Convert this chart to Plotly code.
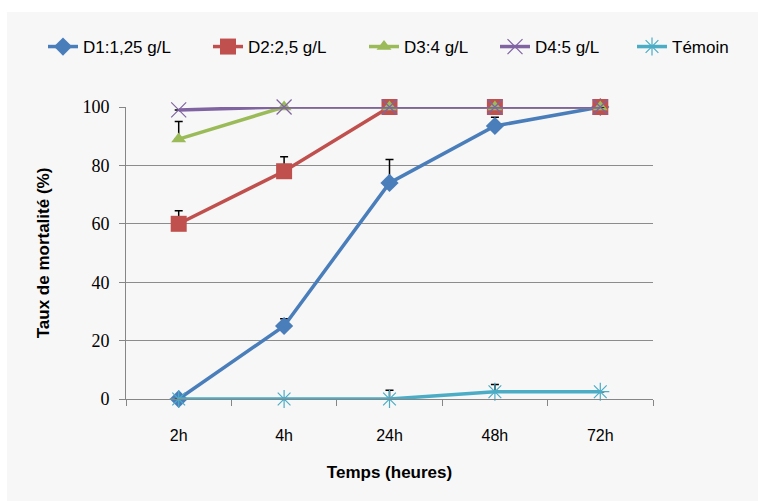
import plotly.graph_objects as go

categories = ["2h", "4h", "24h", "48h", "72h"]
series_names = ["D1:1,25 g/L", "D2:2,5 g/L", "D3:4 g/L", "D4:5 g/L", "Témoin"]
d1 = [0, 25, 74, 93.5, 100]
d2 = [60, 78, 100, 100, 100]
d3 = [89, 100, 100, 100, 100]
d4 = [99, 100, 100, 100, 100]
temoin = [0, 0, 0, 2.5, 2.5]
err_d1 = [0, 2.5, 8, 3, 0]
err_d2 = [4.5, 5, 0, 0, 0]
err_d3 = [6, 0, 0, 0, 0]
err_d4 = [0, 0, 0, 0, 0]
err_temoin = [0, 0, 3, 2.5, 0]
y_ticks = [0, 20, 40, 60, 80, 100]

values = [d1, d2, d3, d4, temoin]
errors = [err_d1, err_d2, err_d3, err_d4, err_temoin]
colors = ["#4A7EBB", "#C0504D", "#9BBB59", "#8064A2", "#4BACC6"]
symbols = ["diamond", "square", "triangle-up", "x-thin", "asterisk"]
msizes = [14, 16, 13, 15, 15]
legend_ids = ["legend", "legend2", "legend3", "legend4", "legend5"]
legend_text_x = [85, 250, 406, 537, 674]   # pixel position of legend text starts

FONT = "Liberation Sans, Arial, sans-serif"
PL, PR, PT, PB = 126, 105, 107, 102
PW, PH = 758 - PL - PR, 501 - PT - PB

fig = go.Figure()
for name, v, e, c, s, ms, lg in zip(series_names, values, errors, colors, symbols, msizes, legend_ids):
    thin = s in ("x-thin", "asterisk")
    fig.add_trace(go.Scatter(
        x=categories, y=v, name=name, mode="lines+markers", cliponaxis=False,
        legend=lg,
        line=dict(color=c, width=3.5),
        marker=dict(symbol=s, size=ms, color=c,
                    line=dict(color=c, width=1.2 if thin else 0)),
        error_y=dict(type="data", array=e, arrayminus=[0]*len(e), symmetric=False,
                     color="black", thickness=1.5, width=4),
    ))

# background panel (white strip on top/left)
fig.add_shape(type="rect", xref="paper", yref="paper",
              x0=(7-PL)/PW, x1=(760-PL)/PW, y0=(PH+PT-503)/PH, y1=(PH+PT-12)/PH,
              fillcolor="#F7F7F7", line=dict(width=0), layer="below")

legends = {}
for lg, tx in zip(legend_ids, legend_text_x):
    legends[lg] = dict(orientation="h", x=(tx - 42 - PL)/PW, xanchor="left",
                       y=1 + (PT-47)/PH, yanchor="middle",
                       font=dict(family=FONT, size=17), bgcolor="rgba(0,0,0,0)")

fig.update_layout(
    width=758, height=501,
    margin=dict(l=PL, r=PR, t=PT, b=PB, autoexpand=False),
    paper_bgcolor="white", plot_bgcolor="#F7F7F7",
    font=dict(family=FONT, size=16, color="black"),
    showlegend=True,
    **legends,
    xaxis=dict(
        type="category", categoryorder="array", categoryarray=categories,
        range=[-0.5, 4.5], showgrid=False, showline=True, linecolor="#868686", linewidth=1,
        ticks="outside", ticklen=6, tickcolor="#868686", tickson="boundaries",
        tickfont=dict(family=FONT, size=16), ticklabelstandoff=22,
        title=dict(text="<b>Temps (heures)</b>", font=dict(family=FONT, size=17), standoff=22),
        zeroline=False,
    ),
    yaxis=dict(
        range=[0, 100], tickvals=y_ticks, showgrid=True, gridcolor="#8C8C8C", gridwidth=1,
        showline=True, linecolor="#868686", linewidth=1,
        ticks="outside", ticklen=6, tickcolor="#868686",
        tickfont=dict(family="Liberation Serif, serif", size=18), ticklabelstandoff=6,
        title=dict(text="<b>Taux de mortalité (%)</b>", font=dict(family=FONT, size=17), standoff=28),
        zeroline=False,
    ),
)

fig.write_html("out.html")
